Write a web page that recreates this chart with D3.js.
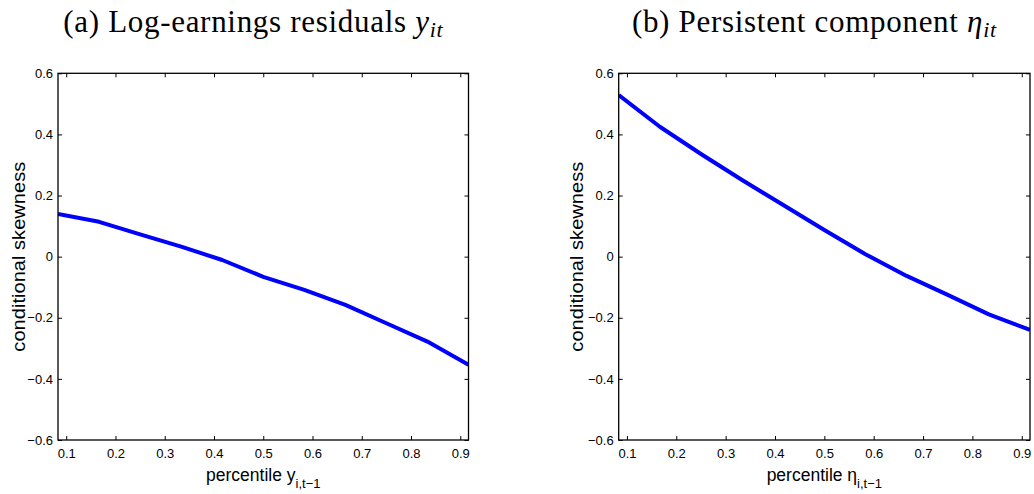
<!DOCTYPE html>
<html>
<head>
<meta charset="utf-8">
<script src="https://cdn.jsdelivr.net/npm/d3@7"></script>
<style>
  html, body { margin: 0; padding: 0; background: #fff; }
  svg { display: block; }
</style>
</head>
<body>
<svg id="chart" width="1034" height="494"></svg>
<script>
// ---- data ----
const percentiles = [0.0833, 0.1667, 0.25, 0.3333, 0.4167, 0.5, 0.5833, 0.6667, 0.75, 0.8333, 0.9167];
const skewLogEarnings = [0.140, 0.114, 0.073, 0.033, -0.011, -0.066, -0.109, -0.158, -0.218, -0.278, -0.354];
const skewPersistent = [0.529, 0.425, 0.336, 0.251, 0.169, 0.087, 0.008, -0.063, -0.125, -0.189, -0.240];
const xTicks = [0.1, 0.2, 0.3, 0.4, 0.5, 0.6, 0.7, 0.8, 0.9];
const yTicks = [-0.6, -0.4, -0.2, 0, 0.2, 0.4, 0.6];
const yDomain = [-0.6, 0.6];
const titles = [
  { label: "(a)", text: "Log-earnings residuals ", sym: "y", sub: "it" },
  { label: "(b)", text: "Persistent component ", sym: "\u03B7", sub: "it" }
];
const xLabels = [
  { text: "percentile y", sub: "i,t\u22121" },
  { text: "percentile \u03B7", sub: "i,t\u22121" }
];
const yLabel = "conditional skewness";

// ---- layout ----
const svg = d3.select("#chart");
const panels = [
  { left: 58, right: 468.5, ylabOff: 33, values: skewLogEarnings },
  { left: 618.7, right: 1030, ylabOff: 36, values: skewPersistent }
];
const plotTop = 73.3, plotBottom = 440;
const tickLen = 4;
const fmt = d => (d < 0 ? "\u2212" : "") + (d === 0 ? "0" : d3.format(".1f")(Math.abs(d)));

panels.forEach((p, i) => {
  const x = d3.scaleLinear().domain(d3.extent(percentiles)).range([p.left, p.right]);
  const y = d3.scaleLinear().domain(yDomain).range([plotBottom, plotTop]);
  const g = svg.append("g");

  // line
  const clipId = "clip" + i;
  svg.append("clipPath").attr("id", clipId)
    .append("rect").attr("x", p.left).attr("y", plotTop).attr("width", p.right - p.left).attr("height", plotBottom - plotTop);
  g.append("path")
    .datum(percentiles.map((pc, k) => [pc, p.values[k]]))
    .attr("clip-path", `url(#${clipId})`)
    .attr("fill", "none")
    .attr("stroke", "#0000ff")
    .attr("stroke-width", 4)
    .attr("stroke-linejoin", "round")
    .attr("d", d3.line().x(d => x(d[0])).y(d => y(d[1])));

  // axes (ticks inward)
  const axisStyle = sel => {
    sel.select(".domain").remove();
    sel.selectAll("line").attr("stroke", "#000").attr("stroke-width", 1);
    sel.selectAll("text").attr("font-family", "'Liberation Sans', Arial, sans-serif").attr("font-size", 13).attr("fill", "#000");
  };
  g.append("g").attr("transform", `translate(0,${plotBottom})`)
    .call(d3.axisBottom(x).tickValues(xTicks).tickFormat(d3.format(".1f")).tickSizeInner(-tickLen).tickSizeOuter(0).tickPadding(9))
    .call(axisStyle);
  g.append("g").attr("transform", `translate(0,${plotTop})`)
    .call(d3.axisTop(x).tickValues(xTicks).tickFormat("").tickSizeInner(-tickLen).tickSizeOuter(0))
    .call(axisStyle);
  g.append("g").attr("transform", `translate(${p.left},0)`)
    .call(d3.axisLeft(y).tickValues(yTicks).tickFormat(fmt).tickSizeInner(-tickLen).tickSizeOuter(0).tickPadding(5))
    .call(axisStyle);
  g.append("g").attr("transform", `translate(${p.right},0)`)
    .call(d3.axisRight(y).tickValues(yTicks).tickFormat("").tickSizeInner(-tickLen).tickSizeOuter(0))
    .call(axisStyle);

  // box
  g.append("rect")
    .attr("x", p.left).attr("y", plotTop)
    .attr("width", p.right - p.left).attr("height", plotBottom - plotTop)
    .attr("fill", "none").attr("stroke", "#000").attr("stroke-width", 1.3);

  const cx = (p.left + p.right) / 2;

  // x label
  const xl = g.append("text")
    .attr("x", cx).attr("y", 481)
    .attr("text-anchor", "middle")
    .attr("font-family", "'Liberation Sans', Arial, sans-serif")
    .attr("font-size", 17.5).attr("fill", "#000");
  xl.append("tspan").text(xLabels[i].text);
  xl.append("tspan").attr("dy", 7).attr("font-size", 13).text(xLabels[i].sub);

  // y label (slightly stretched along its length, as in the reference)
  g.append("text")
    .attr("transform", `translate(${p.left - p.ylabOff},${(plotTop + plotBottom) / 2}) scale(1,1.13) rotate(-90)`)
    .attr("text-anchor", "middle")
    .attr("font-family", "'Liberation Sans', Arial, sans-serif")
    .attr("font-size", 17.8).attr("fill", "#000")
    .text(yLabel);

  // title
  const t = titles[i];
  const tt = g.append("text")
    .attr("x", cx - 10).attr("y", 32)
    .attr("text-anchor", "middle")
    .attr("font-family", "'Liberation Serif', 'Times New Roman', serif")
    .attr("font-size", 31).attr("letter-spacing", 0.7).attr("fill", "#000");
  tt.append("tspan").text(t.label + " " + t.text);
  tt.append("tspan").attr("font-style", "italic").text(t.sym);
  tt.append("tspan").attr("font-style", "italic").attr("font-size", 22).attr("dy", 5).text(t.sub);
});
</script>
</body>
</html>
